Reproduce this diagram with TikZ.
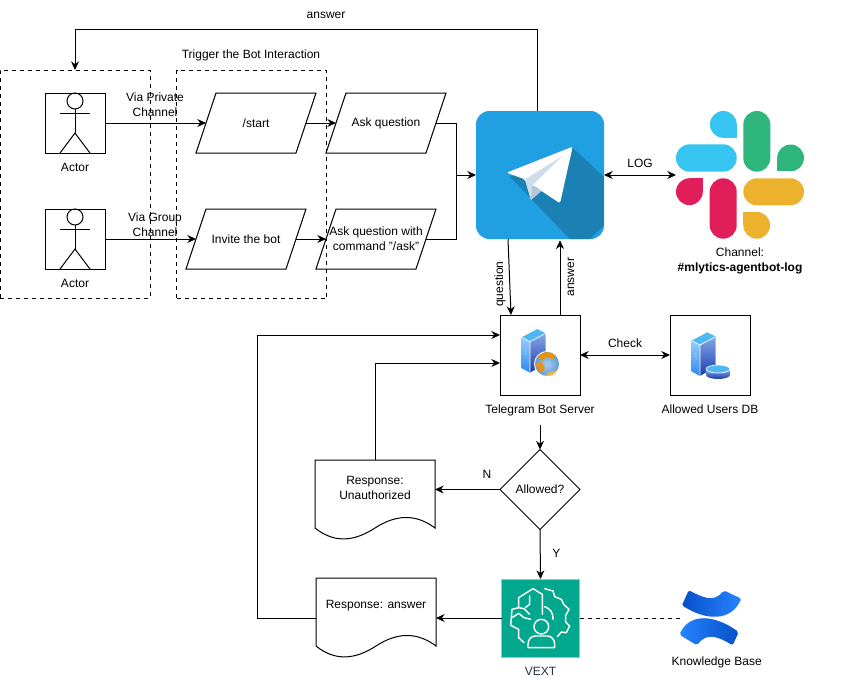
\documentclass[tikz,border=0pt]{standalone}
\usepackage{fontspec}
\setmainfont{Liberation Sans}
\usetikzlibrary{positioning,arrows.meta,shapes.geometric}

\definecolor{tgblue}{HTML}{20A0E2}
\definecolor{tgdark}{HTML}{1B80B4}
\definecolor{tgfold}{HTML}{CFDDEB}
\definecolor{tgshade}{HTML}{B7C6DF}
\definecolor{slackblue}{HTML}{36C5F0}
\definecolor{slackgreen}{HTML}{2EB67D}
\definecolor{slackred}{HTML}{E01E5A}
\definecolor{slackyellow}{HTML}{ECB22E}
\definecolor{vextgreen}{HTML}{01A88D}
\definecolor{vextnavy}{HTML}{232F3E}
\definecolor{kbdark}{HTML}{0650C8}
\definecolor{kblight}{HTML}{2684FF}
\definecolor{towertop}{HTML}{4FB8F4}
\definecolor{sidehi}{HTML}{9CCBFF}
\definecolor{sidelo}{HTML}{2A8CF0}
\definecolor{fronthi}{HTML}{86A8E8}
\definecolor{frontlo}{HTML}{1C3DAE}
\definecolor{globehi}{HTML}{A9CDEE}
\definecolor{globelo}{HTML}{5F9BD8}
\definecolor{land}{HTML}{E8930F}
\definecolor{landlo}{HTML}{F3B33B}

\tikzset{
  txt/.style={inner sep=0pt,outer sep=0pt,align=center,font=\fontsize{9}{11.25}\selectfont},
  caption/.style={txt,text height=6.5pt,text depth=2pt},
  box/.style={draw,txt,minimum size=60pt},
  iobox/.style={txt,minimum width=75pt,minimum height=45pt},
  actorbox/.style={draw,txt,minimum size=45pt},
  groupbox/.style={draw,dashed,txt},
  docbox/.style={txt,minimum width=90pt,minimum height=51pt},
  arr/.style={-{Stealth[length=6.5pt,width=6pt]}},
  dblarr/.style={{Stealth[length=6.5pt,width=6pt]}-{Stealth[length=6.5pt,width=6pt]}},
  stickman/.pic={
    \draw (0,-22) circle (8);
    \draw (0,-14) -- (0,10);
    \draw (-15,-10) -- (15,-10);
    \draw (-15,30) -- (0,10) -- (15,30);
  },
  towericon/.pic={
    \shade[top color=sidehi,bottom color=sidelo] (0,0) -- (8.3,4.4) -- (8.3,35.4) -- (0,31) -- cycle;
    \shade[top color=fronthi,bottom color=frontlo] (8.3,4.4) -- (24,-4) -- (24,26) -- (8.3,35.4) -- cycle;
    \fill[towertop] (0,0) -- (15.6,-8.3) -- (24,-4) -- (8.3,4.4) -- cycle;
    \draw[white,line width=.5pt] (0,0) -- (8.3,4.4) -- (24,-4) (8.3,4.4) -- (8.3,35.4);
    \draw[white!70!cyan,line width=.4pt] (3,13) -- (5,14) (3,16) -- (5,17);
  },
}

% input/output outline: slanted sides through west and east
\newcommand{\iooutline}[1]{
  \draw ([shift={(-10,0)}]#1.south west) -- ([shift={(10,0)}]#1.north west)
    -- ([shift={(10,0)}]#1.north east) -- ([shift={(-10,0)}]#1.south east) -- cycle;
}
% document outline: wave along the bottom
\newcommand{\docoutline}[1]{
  \draw (#1.south west) -- (#1.north west) -- (#1.north east) -- (#1.south east)
    .. controls ([shift={(-20,-15)}]#1.south east) and ([shift={(-40,-13)}]#1.south east) .. ([shift={(-60,0)}]#1.south east)
    .. controls ([shift={(-80,13)}]#1.south east) and ([shift={(-100,16)}]#1.south east) .. (#1.south west);
}
\newcommand{\slackdrop}[5]{
  \fill[#1] (#2,#3) circle (13.4);
  \fill[#1] (#2,#3) rectangle ++(#4,#5);
}

\begin{document}
\begin{tikzpicture}[x=.75pt,y=-.75pt,line width=.75pt,>=Stealth]
  \useasboundingbox (0,0) rectangle (846,678);

  % groups
  \node[groupbox,minimum width=112.5pt,minimum height=171pt] (groupa) at (75,184) {};
  \node[groupbox,minimum width=112.2pt,minimum height=171.7pt] (groupb) at (251.5,184.5) {};
  \node[caption] (groupbtxt) at (251,55) {Trigger the Bot Interaction};

  % actors and the first steps
  \node[actorbox] (actora) at (75,123) {};
  \node[actorbox,below=42pt of actora] (actorb) {};
  \pic at (actora) {stickman};
  \pic at (actorb) {stickman};
  \node[caption,below=7.5pt of actora] (actoratxt) {Actor};
  \node[caption,below=7.5pt of actorb] (actorbtxt) {Actor};
  \node[iobox,right=75.75pt of actora] (start) {/start};
  \node[iobox,right=22.5pt of start] (askq) {Ask question};
  \node[iobox,right=68.25pt of actorb] (invite) {Invite the bot};
  \node[iobox,right=22.5pt of invite] (askcmd) {Ask question with\\command "/ask"};
  \iooutline{start}
  \iooutline{askq}
  \iooutline{invite}
  \iooutline{askcmd}
  \node[txt] (privtxt) at (155,105) {Via Private\\Channel};
  \node[txt] (grouptxt) at (155,225) {Via Group\\Channel};

  % telegram
  \node[txt,fill=tgblue,rounded corners=10pt,minimum size=96pt] (telegram) at (540,175) {};
  \begin{scope}
    \clip[rounded corners=10pt] (telegram.south west) rectangle (telegram.north east);
    \fill[tgdark] (572.7,148) -- (604,177) -- (604,225) -- (590,239) -- (570,239) -- (510,177) -- cycle;
  \end{scope}
  \begin{scope}[shift={(460,90)},x=.25pt,y=-.25pt]
    \fill[white,rounded corners=1.5pt] (338,170) -- (140,248) -- (195,268) -- (213,330) -- (218,285) -- (300,340) -- cycle;
    \fill[tgfold] (195,268) -- (305,200) -- (218,285) -- (213,330) -- cycle;
    \fill[tgshade] (218,285) -- (245,303) -- (213,330) -- cycle;
  \end{scope}

  % slack
  \node[txt,minimum size=96pt] (slack) at (740,175) {};
  \fill[slackblue,rounded corners=10.1pt] (676,144.3) rectangle (736.7,171.7);
  \fill[slackgreen,rounded corners=10.1pt] (743.3,111) rectangle (770.3,171.7);
  \fill[slackred,rounded corners=10.1pt] (709.7,178.3) rectangle (736.7,238.7);
  \fill[slackyellow,rounded corners=10.1pt] (743.3,178.3) rectangle (804,205.3);
  \slackdrop{slackblue}{723.3}{124.4}{13.4}{13.4}
  \slackdrop{slackgreen}{790.6}{157.9}{-13.4}{13.4}
  \slackdrop{slackred}{689.4}{191.7}{13.4}{-13.4}
  \slackdrop{slackyellow}{756.7}{225.3}{-13.4}{-13.4}
  \node[txt,below=6.5pt of slack] (slacktxt) {Channel:\\\textbf{\#mlytics-agentbot-log}};

  % server and db
  \node[box] (server) at (540,355) {};
  \node[box,right=67.5pt of server] (usersdb) {};
  \pic at (521.7,337.3) {towericon};
  \pic at (691.7,340.6) {towericon};
  \fill[white] (547,364) circle (13);
  \shade[inner color=globehi,outer color=globelo] (547,364) circle (12);
  \begin{scope}
    \clip (547,364) circle (12);
    \fill[land] (537,356) -- (546,352) -- (558,354) -- (553,359) -- (546,357) -- (542,361) -- cycle;
    \fill[land] (536,363) -- (541,362) -- (545,368) -- (541,373) -- (537,369) -- cycle;
    \fill[landlo] (544,376) -- (550,372) -- (556,371) -- (560,366) -- (560,378) -- (544,378) -- cycle;
  \end{scope}
  \shade[top color=fronthi,bottom color=frontlo] (706,369) -- (706,375) arc[start angle=180,end angle=360,x radius=12,y radius=-4] -- (730,369) -- cycle;
  \fill[towertop,draw=white,line width=.5pt] (718,369) ellipse (12 and 4);
  \node[caption,below=7.5pt of server] (servertxt) {Telegram Bot Server};
  \node[caption,below=7.5pt of usersdb] (usersdbtxt) {Allowed Users DB};

  % decision and the two responses
  \node[draw,txt,diamond,aspect=1,minimum size=60pt] (allowed) at (540,489.5) {Allowed?};
  \node[docbox] (respauth) at (375,494) {};
  \node[txt] (respauthtxt) at (375,488) {Response:\\Unauthorized};
  \docoutline{respauth}
  \node[docbox] (respans) at (376,612) {};
  \node[txt] (respanstxt) at (376,606) {Response: answer};
  \docoutline{respans}

  % vext and knowledge base
  \node[txt,fill=vextgreen,draw=vextgreen!50!white,minimum size=58.5pt] (vext) at (540.5,618) {};
  \begin{scope}[shift={(498,576)},x=.25pt,y=-.25pt,white,line width=1.1pt,line join=round,line cap=round]
    \draw (133,115) -- (133,55) -- (105,38) -- (62,65) -- (62,95) -- (42,100) -- (38,148) -- (62,160) -- (62,185) -- (78,200);
    \draw (82,95) -- (95,85) -- (95,60);
    \draw (42,125) -- (62,112) -- (78,125) -- (98,130);
    \draw (62,95) -- (78,98) -- (95,115);
    \draw (140,38) -- (165,45) -- (170,62) -- (190,70) -- (197,85) -- (213,100) -- (203,118) -- (203,138) -- (215,150) -- (205,170) -- (190,168) -- (178,182);
    \draw (140,92) .. controls (158,98) and (166,112) .. (165,130);
    \draw (130,152) circle (22);
    \draw (90,215) -- (90,205) .. controls (90,190) and (100,180) .. (112,180) -- (148,180) .. controls (160,180) and (170,190) .. (170,205) -- (170,215) -- cycle;
  \end{scope}
  \node[caption,text=vextnavy,below=7.5pt of vext] (vexttxt) {VEXT};
  \node[txt,minimum width=45pt,minimum height=43.5pt] (kbase) at (710,618) {};
  \begin{scope}[shift={(672,582)},x=.25pt,y=-.25pt]
    \shade[left color=kbdark,right color=kblight,rounded corners=1.5pt] (30,70) -- (50,25) .. controls (85,42) and (125,65) .. (155,25) -- (208,50) .. controls (175,120) and (100,115) .. (30,70) -- cycle;
    \shade[left color=kblight,right color=kbdark,rounded corners=1.5pt] (22,158) .. controls (55,90) and (130,100) .. (200,150) -- (182,190) .. controls (140,165) and (105,150) .. (75,190) -- cycle;
  \end{scope}
  \node[caption,below=7pt of kbase,xshift=5pt] (kbasetxt) {Knowledge Base};

  % connectors
  \coordinate (merge) at (456,175);
  \coordinate (toprail) at (75,29);
  \coordinate (leftrail) at (257,335);
  \coordinate (allowedin) at (540,425);
  \draw[arr] (actora.east) -- (start.west);
  \draw[arr] (start.east) -- (askq.west);
  \draw[arr] (actorb.east) -- (invite.west);
  \draw[arr] (invite.east) -- (askcmd.west);
  \draw (askq.east) -| (merge);
  \draw (askcmd.east) -| (merge);
  \draw[arr] (merge) -- (telegram.west);
  \draw[arr] ([xshift=-2.25pt]telegram.north) |- (toprail) -- (groupa.north);
  \node[caption] (toptxt) at (326,15) {answer};
  \draw[dblarr] (telegram.east) -- node[caption,above=4pt] (logtxt) {LOG} (slack.west);
  \draw[arr] ([xshift=-24pt]telegram.south) -- ([xshift=-21.75pt]server.north);
  \draw[arr] ([xshift=15pt]server.north) -- ([xshift=15pt,yshift=-1pt]telegram.south);
  \node[caption,rotate=90] (questiontxt) at (500,284) {question};
  \node[caption,rotate=90] (answertxt) at (571,277) {answer};
  \draw[dblarr] (server.east) -- node[caption,above=4pt] (checktxt) {Check} (usersdb.west);
  \draw[arr] (allowedin) -- (allowed.north);
  \draw[arr] (allowed.west) -- node[caption,pos=.2,above=6pt] (ntxt) {N} (allowed.west -| respauth.east);
  \draw[arr] (allowed.south) -- node[caption,right=9pt] (ytxt) {Y} (vext.north);
  \draw[arr] (respauth.north) |- ([yshift=-6pt]server.west);
  \draw[arr] (vext.west) -- (vext.west -| respans.east);
  \draw[arr] (vext.west -| respans.west) -| (leftrail) -- ([yshift=15pt]server.west);
  \draw[dashed] (vext.east) -- (kbase.west);
\end{tikzpicture}
\end{document}
